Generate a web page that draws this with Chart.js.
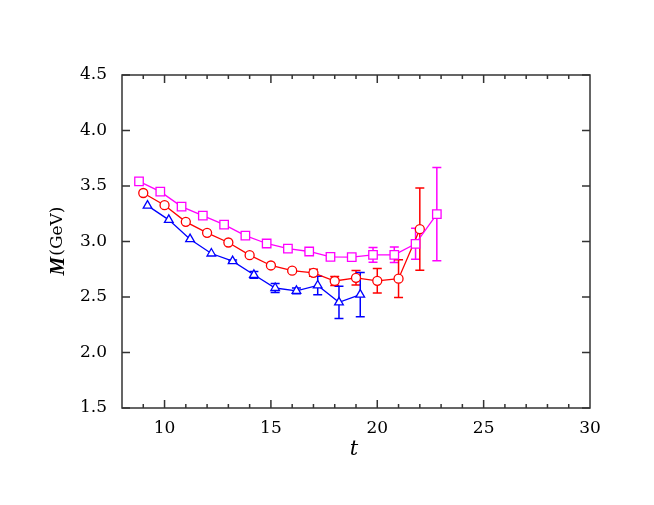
<!DOCTYPE html>
<html>
<head>
<meta charset="utf-8">
<script src="https://cdn.jsdelivr.net/npm/chart.js@4.4.1/dist/chart.umd.min.js"></script>
<style>
  html, body { margin: 0; padding: 0; background: #fff; }
</style>
</head>
<body>
<canvas id="massChart" width="654" height="505"></canvas>
<script>
// --- data ---
const tMagenta = [8.8, 9.8, 10.8, 11.8, 12.8, 13.8, 14.8, 15.8, 16.8, 17.8, 18.8, 19.8, 20.8, 21.8, 22.8];
const mMagenta = [3.542, 3.449, 3.314, 3.233, 3.152, 3.053, 2.982, 2.935, 2.910, 2.862, 2.859, 2.880, 2.880, 2.979, 3.246];
const eMagenta = [0, 0, 0, 0, 0, 0, 0, 0, 0.01, 0.015, 0.025, 0.066, 0.07, 0.14, 0.42];

const tRed = [9, 10, 11, 12, 13, 14, 15, 16, 17, 18, 19, 20, 21, 22];
const mRed = [3.437, 3.327, 3.177, 3.078, 2.991, 2.877, 2.784, 2.737, 2.718, 2.644, 2.673, 2.646, 2.665, 3.111];
const eRed = [0, 0, 0, 0, 0, 0, 0, 0.01, 0.032, 0.04, 0.065, 0.11, 0.17, 0.37];

const tBlue = [9.2, 10.2, 11.2, 12.2, 13.2, 14.2, 15.2, 16.2, 17.2, 18.2, 19.2];
const mBlue = [3.323, 3.195, 3.021, 2.892, 2.823, 2.700, 2.581, 2.555, 2.604, 2.452, 2.521];
const eBlue = [0, 0, 0, 0, 0.01, 0.03, 0.04, 0.025, 0.084, 0.145, 0.20];

const xTicks = [10, 15, 20, 25, 30];
const yTicks = [1.5, 2.0, 2.5, 3.0, 3.5, 4.0, 4.5];

const toPoints = (xs, ys) => xs.map((x, i) => ({ x: x, y: ys[i] }));

function makeSet(xs, ys, errs, color, style, radius) {
    return {
        data: toPoints(xs, ys),
        errors: errs,
        borderColor: color,
        backgroundColor: '#fff',
        borderWidth: 1.3,
        pointStyle: style,
        pointRadius: radius,
        pointBorderColor: color,
        pointBackgroundColor: '#fff',
        pointBorderWidth: 1.3,
        showLine: true,
        tension: 0
    };
}

// error bars, frame, inward ticks and axis titles
const gnuplotLook = {
    id: 'gnuplotLook',
    beforeDatasetsDraw(chart) {
        const { ctx, scales: { x, y } } = chart;
        chart.data.datasets.forEach(ds => {
            ctx.save();
            ctx.strokeStyle = ds.borderColor;
            ctx.lineWidth = 1.5;
            ds.data.forEach((p, j) => {
                const e = ds.errors[j];
                if (!e) return;
                const px = x.getPixelForValue(p.x);
                const top = y.getPixelForValue(p.y + e);
                const bot = y.getPixelForValue(p.y - e);
                ctx.beginPath();
                ctx.moveTo(px, top); ctx.lineTo(px, bot);
                ctx.moveTo(px - 4.5, top); ctx.lineTo(px + 4.5, top);
                ctx.moveTo(px - 4.5, bot); ctx.lineTo(px + 4.5, bot);
                ctx.stroke();
            });
            ctx.restore();
        });
    },
    afterDraw(chart) {
        const { ctx, chartArea: a, scales: { x, y } } = chart;
        ctx.save();
        ctx.strokeStyle = '#333';
        ctx.lineWidth = 1.5;
        ctx.strokeRect(a.left, a.top, a.right - a.left, a.bottom - a.top);
        ctx.beginPath();
        for (let t = 9; t < 30; t++) {
            const px = x.getPixelForValue(t);
            const len = xTicks.includes(t) ? 8 : 4;
            ctx.moveTo(px, a.bottom); ctx.lineTo(px, a.bottom - len);
            ctx.moveTo(px, a.top); ctx.lineTo(px, a.top + len);
        }
        yTicks.forEach(v => {
            const py = y.getPixelForValue(v);
            ctx.moveTo(a.left, py); ctx.lineTo(a.left + 8, py);
            ctx.moveTo(a.right, py); ctx.lineTo(a.right - 8, py);
        });
        ctx.stroke();

        ctx.fillStyle = '#000';
        ctx.textBaseline = 'middle';
        ctx.textAlign = 'center';
        ctx.font = 'italic 21px "DejaVu Serif"';
        ctx.fillText('t', 354, 450);

        ctx.translate(58, (a.top + a.bottom) / 2);
        ctx.rotate(-Math.PI / 2);
        ctx.textAlign = 'left';
        const mFont = 'italic bold 21px "Liberation Serif"';
        const gFont = '17px "DejaVu Serif"';
        ctx.font = mFont;
        const mW = ctx.measureText('M').width;
        ctx.font = gFont;
        const gW = ctx.measureText('(GeV)').width;
        const x0 = -(mW + gW) / 2;
        ctx.font = mFont;
        ctx.fillText('M', x0, 1);
        ctx.font = gFont;
        ctx.fillText('(GeV)', x0 + mW + 1, 0);
        ctx.restore();
    }
};

const ctx = document.getElementById('massChart').getContext('2d');
const massChart = new Chart(ctx, {
    type: 'scatter',
    data: {
        datasets: [
            makeSet(tMagenta, mMagenta, eMagenta, '#ff00ff', 'rect', 6),
            makeSet(tRed, mRed, eRed, '#ff0000', 'circle', 4.5),
            makeSet(tBlue, mBlue, eBlue, '#0000ff', 'triangle', 5)
        ]
    },
    options: {
        responsive: false,
        animation: false,
        layout: { padding: { left: 0, top: 75, right: 64, bottom: 0 } },
        plugins: {
            legend: { display: false },
            tooltip: { enabled: false }
        },
        scales: {
            x: {
                type: 'linear',
                min: 8,
                max: 30,
                grid: { display: false, drawTicks: false },
                border: { display: false },
                afterBuildTicks: s => { s.ticks = xTicks.map(v => ({ value: v })); },
                afterFit: s => { s.height = 97; },
                ticks: {
                    color: '#000',
                    padding: 10,
                    maxRotation: 0,
                    font: { family: 'DejaVu Serif', size: 17 }
                }
            },
            y: {
                type: 'linear',
                min: 1.5,
                max: 4.5,
                grid: { display: false, drawTicks: false },
                border: { display: false },
                afterBuildTicks: s => { s.ticks = yTicks.map(v => ({ value: v })); },
                afterFit: s => { s.width = 122; },
                ticks: {
                    color: '#000',
                    padding: 15,
                    font: { family: 'DejaVu Serif', size: 17 },
                    callback: v => v.toFixed(1)
                }
            }
        }
    },
    plugins: [gnuplotLook]
});
</script>
</body>
</html>
